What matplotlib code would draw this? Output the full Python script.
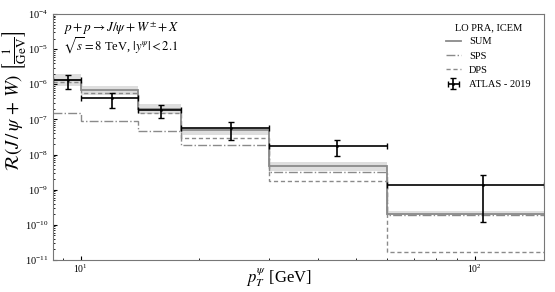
import numpy as np
import matplotlib
matplotlib.use('Agg')
import matplotlib.pyplot as plt

plt.rcParams['font.family'] = ['Liberation Serif', 'DejaVu Serif']
plt.rcParams['mathtext.fontset'] = 'stix'

# pT bin edges [GeV]
edges = [8.5, 10, 14, 18, 30, 60, 150]

# theory: LO PRA, ICEM
sum_vals = [1.30e-6, 6.9e-7, 1.94e-7, 5.0e-8, 4.8e-9, 2.0e-10]
sum_hi = [1.96e-6, 8.9e-7, 2.75e-7, 5.6e-8, 6.0e-9, 2.4e-10]
sum_lo = [8.9e-7, 5.0e-7, 1.45e-7, 3.6e-8, 3.3e-9, 1.85e-10]
sps_vals = [1.49e-7, 9.2e-8, 4.8e-8, 1.84e-8, 3.1e-9, 1.87e-10]
dps_vals = [1.15e-6, 5.5e-7, 1.55e-7, 2.96e-8, 1.77e-9, 1.72e-11]

# ATLAS - 2019 data
atlas_x = [9.27, 12.0, 16.0, 24.0, 44.8, 105.0]
atlas_y = [1.32e-6, 4.15e-7, 1.85e-7, 5.8e-8, 1.79e-8, 1.39e-9]
atlas_hi = [1.84e-6, 5.7e-7, 2.63e-7, 8.6e-8, 2.55e-8, 2.6e-9]
atlas_lo = [7.3e-7, 2.15e-7, 1.12e-7, 2.6e-8, 9.1e-9, 1.17e-10]

fig = plt.figure(figsize=(5.55, 2.92), dpi=100)
ax = fig.add_axes([0.0955, 0.1096, 0.8845, 0.8424])

grey = '#8a8a8a'
ax.stairs(sum_hi, edges, baseline=sum_lo, fill=True, color='#dedede', lw=0)
ax.stairs(sum_vals, edges, baseline=None, color=grey, lw=1.3, label='SUM')
ax.stairs(sps_vals, edges, baseline=None, color=grey, lw=1.0, ls='-.', label='SPS')
ax.stairs(dps_vals, edges, baseline=None, color=grey, lw=1.0, ls=(0, (3, 2)), label='DPS')

x = np.array(atlas_x)
y = np.array(atlas_y)
xerr = [x - np.array(edges[:-1]), np.array(edges[1:]) - x]
yerr = [y - np.array(atlas_lo), np.array(atlas_hi) - y]
ax.errorbar(x, y, xerr=xerr, yerr=yerr, fmt='.', color='black', ms=2,
            lw=1.2, capsize=2, capthick=1, label='ATLAS - 2019')

ax.set_xscale('log')
ax.set_yscale('log')
ax.set_xlim(8.5, 150)
ax.set_ylim(1e-11, 1e-4)
ax.tick_params(which='both', direction='in', labelsize=7.5, top=False, right=False)
ax.tick_params(axis='x', labelsize=7, pad=2)
ax.tick_params(which='major', length=3)
ax.tick_params(which='minor', length=1.5)
for s in ax.spines.values():
    s.set_color('#777777')
    s.set_linewidth(0.8)

ax.set_xlabel(r'$p_T^{\psi}$ [GeV]', fontsize=12)
ax.xaxis.set_label_coords(0.46, -0.025)
ax.set_ylabel(r'$\mathcal{R}(J\,/\,\psi\,+\,W)\ \left[\frac{1}{\mathrm{GeV}}\right]$',
              fontsize=13.5)
ax.yaxis.set_label_coords(-0.049, 0.65)

ax.text(0.02, 0.94, r'$p+p\to J/\psi+W^{\pm}+X$', transform=ax.transAxes,
        fontsize=9.5, va='center')
ax.text(0.02, 0.87, r'$\sqrt{s}=8$ TeV, $|y^{\psi}|<2.1$', transform=ax.transAxes,
        fontsize=9, va='center')

leg = ax.legend(title='LO PRA, ICEM', loc='upper right', frameon=False, fontsize=7.5,
                title_fontsize=7.5, handlelength=1.4, handletextpad=0.8,
                labelspacing=0.48, borderpad=0, borderaxespad=0,
                bbox_to_anchor=(0.973, 0.963))

fig.savefig('out.png', dpi=100)
